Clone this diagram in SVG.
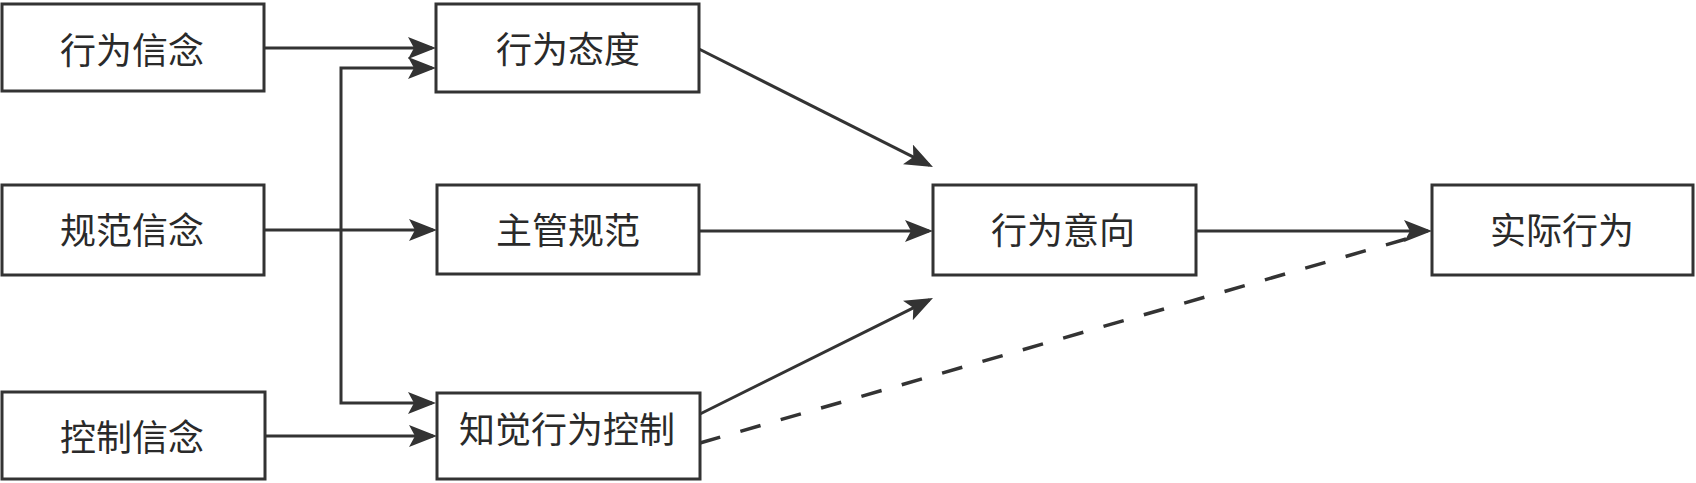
<svg xmlns="http://www.w3.org/2000/svg" width="1696" height="483" viewBox="0 0 1696 483">
<style>
.box{fill:#fff;stroke:#333;stroke-width:3}
.lbl{font-family:"Noto Sans CJK SC","Noto Sans",sans-serif;font-size:36px;fill:#2a2a2a;text-anchor:middle;dominant-baseline:central}
.ln{fill:none;stroke:#333;stroke-width:3}
.arr{marker-end:url(#ah)}
.dash{stroke-dasharray:21 21;stroke-width:3.5}
</style>
<defs>
<marker id="ah" markerUnits="userSpaceOnUse" markerWidth="30" markerHeight="24" refX="24" refY="11" orient="auto-start-reverse">
<path d="M0,0 L28,11 L0,22 L6,11 z" fill="#333"/>
</marker>
</defs>
<rect width="1696" height="483" fill="#fff"/>
<g id="connectors">
<line class="ln arr" x1="264" y1="48" x2="432" y2="48"/>
<path class="ln" d="M432,68 H341 V403 H432" marker-start="url(#ah)" marker-end="url(#ah)"/>
<line class="ln arr" x1="264" y1="230" x2="433" y2="230"/>
<line class="ln arr" x1="265" y1="436" x2="433" y2="436"/>
<line class="ln arr" x1="699" y1="49" x2="929.4" y2="165.2"/>
<line class="ln arr" x1="699" y1="231" x2="929" y2="231"/>
<line class="ln arr" x1="700" y1="414" x2="929.4" y2="299.8"/>
<line class="ln arr" x1="1196" y1="231" x2="1428" y2="231"/>
<line class="ln dash" x1="700" y1="443" x2="1420" y2="235"/>
</g>
<g id="n1"><rect class="box" x="2" y="4" width="262" height="87"/><text class="lbl" x="132" y="48">行为信念</text></g>
<g id="n2"><rect class="box" x="2" y="185" width="262" height="90"/><text class="lbl" x="132" y="228">规范信念</text></g>
<g id="n3"><rect class="box" x="2" y="392" width="263" height="87"/><text class="lbl" x="132" y="435">控制信念</text></g>
<g id="n4"><rect class="box" x="436" y="4" width="263" height="88"/><text class="lbl" x="568" y="47">行为态度</text></g>
<g id="n5"><rect class="box" x="437" y="185" width="262" height="89"/><text class="lbl" x="568" y="228">主管规范</text></g>
<g id="n6"><rect class="box" x="437" y="393" width="263" height="86"/><text class="lbl" x="567" y="427">知觉行为控制</text></g>
<g id="n7"><rect class="box" x="933" y="185" width="263" height="90"/><text class="lbl" x="1063" y="228">行为意向</text></g>
<g id="n8"><rect class="box" x="1432" y="185" width="261" height="90"/><text class="lbl" x="1562" y="228">实际行为</text></g>
</svg>
